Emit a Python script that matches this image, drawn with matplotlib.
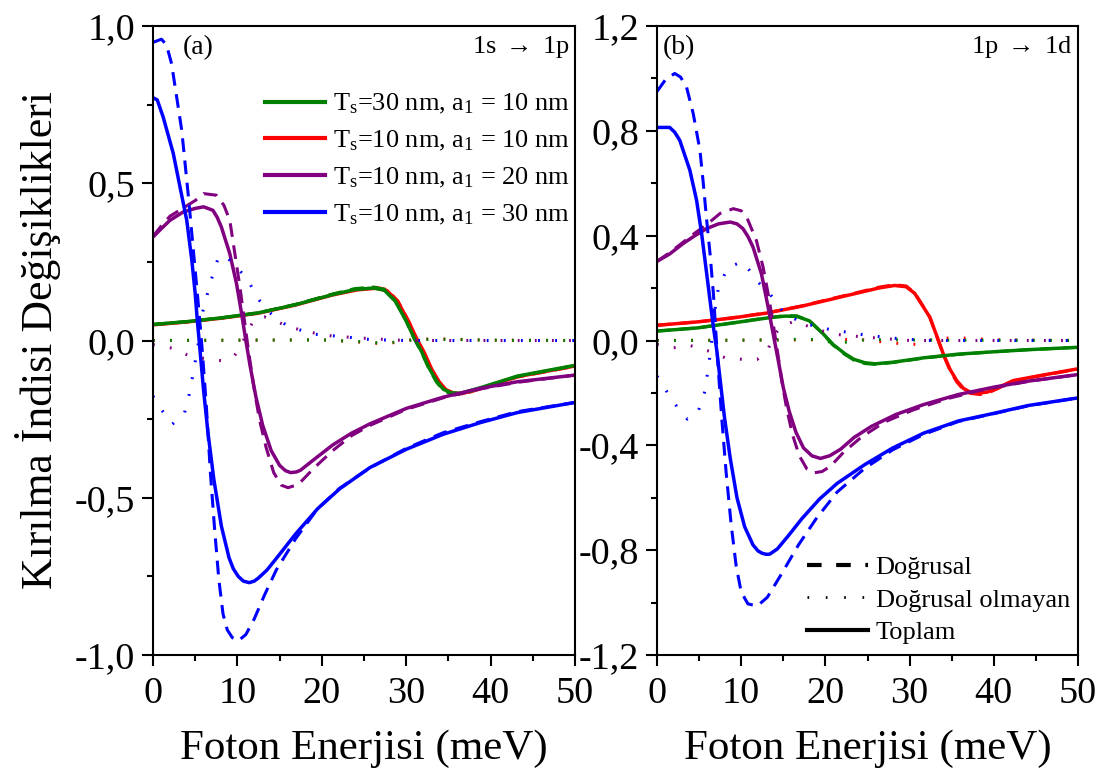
import numpy as np
import matplotlib.pyplot as plt
from matplotlib.lines import Line2D
from matplotlib.ticker import MultipleLocator, FuncFormatter

plt.rcParams['font.family'] = ['Liberation Serif', 'DejaVu Serif']
plt.rcParams['mathtext.fontset'] = 'custom'
plt.rcParams['mathtext.rm'] = 'Liberation Serif'
plt.rcParams['mathtext.it'] = 'Liberation Serif:italic'

# ---- (a) 1s -> 1p : (E [meV], dn/n) ----
a_mavi_dog = [(0, 0.948), (1.0, 0.958), (1.6, 0.94), (2.2, 0.88), (2.8, 0.775), (3.4, 0.669),
              (3.8, 0.563), (4.2, 0.456), (4.6, 0.34), (5.0, 0.223), (5.4, 0.106), (5.8, -0.02),
              (6.3, -0.2), (6.8, -0.42), (7.3, -0.6), (7.8, -0.76), (8.3, -0.87), (8.8, -0.92),
              (9.4, -0.945), (10.1, -0.955), (11.0, -0.935), (12.0, -0.885), (13.2, -0.81),
              (14.6, -0.73), (16.9, -0.63), (19.5, -0.535), (22.1, -0.47), (25.7, -0.405),
              (30, -0.343), (34.4, -0.293), (38.8, -0.258), (43.2, -0.226), (50, -0.197)]
a_mavi_top = [(0, 0.772), (0.5, 0.765), (1.2, 0.711), (2.4, 0.595), (3.2, 0.488), (4.0, 0.382),
              (4.6, 0.255), (5.0, 0.149), (5.25, 0.064), (5.6, -0.04), (6.0, -0.16), (6.5, -0.29),
              (7.2, -0.44), (8.1, -0.59), (9.0, -0.69), (9.5, -0.725), (10.1, -0.75), (10.7, -0.765),
              (11.4, -0.77), (12.0, -0.765), (12.5, -0.755), (13.5, -0.73), (14.7, -0.69),
              (16.9, -0.615), (19.5, -0.535), (22.1, -0.472), (25.7, -0.404),
              (30, -0.346), (34.4, -0.298), (38.8, -0.261), (43.2, -0.229), (50, -0.197)]
a_mavi_dgs = [(0, -0.177), (1.0, -0.22), (2.3, -0.266), (3.7, -0.234), (4.4, -0.16), (4.8, -0.097),
              (5.3, -0.023), (5.8, 0.082), (6.75, 0.18), (7.7, 0.26), (8.5, 0.272), (9.1, 0.255),
              (10.2, 0.225), (11.3, 0.19), (12.3, 0.138), (13.5, 0.096), (14.5, 0.074), (16, 0.045),
              (19.1, 0.02), (22.6, 0.012), (25.7, 0.003), (30, 0.0), (40, 0.0), (50, 0.0)]

a_mor_dog = [(0, 0.331), (1.0, 0.365), (2.0, 0.395), (3.5, 0.42), (5.0, 0.445), (6.0, 0.467),
             (7.5, 0.462), (8.4, 0.43), (9.1, 0.382), (9.7, 0.276), (10.3, 0.17), (10.8, 0.07),
             (11.3, -0.03), (11.9, -0.14), (12.6, -0.25), (13.4, -0.34), (14.3, -0.42), (15.2, -0.46),
             (16.0, -0.468), (17.2, -0.458), (19.1, -0.405), (21.3, -0.35), (23.5, -0.303),
             (25.7, -0.27), (30, -0.219), (34.4, -0.182), (38.8, -0.154), (43.2, -0.133), (50, -0.11)]
a_mor_top = [(0, 0.329), (1.0, 0.356), (2.0, 0.382), (3.6, 0.409), (5.0, 0.42), (6.0, 0.425),
             (7.1, 0.414), (7.6, 0.392), (8.1, 0.361), (9.1, 0.276), (9.9, 0.18), (10.5, 0.085), (11.0, 0.0),
             (11.5, -0.08), (12.2, -0.18), (13.0, -0.27), (14.0, -0.35), (15.0, -0.397), (15.7, -0.414),
             (16.3, -0.42), (17.0, -0.418), (17.5, -0.412), (19.0, -0.38), (21.3, -0.332), (23.5, -0.295),
             (25.7, -0.265), (30, -0.216), (34.4, -0.18), (38.8, -0.152), (43.2, -0.131), (50, -0.11)]
a_mor_dgs = [(0, -0.013), (2.4, -0.025), (4, -0.045), (5.5, -0.055), (7, -0.06), (8.3, -0.065),
             (9.6, -0.05), (10.4, -0.02), (11.2, 0.03), (12.1, 0.07), (13.2, 0.075), (14.5, 0.062),
             (16, 0.045), (18.2, 0.028), (21.3, 0.014), (25.7, 0.006), (30, 0.0), (50, 0.0)]

a_yesil_top = [(0, 0.051), (4, 0.06), (8.1, 0.072), (12.5, 0.088), (16.9, 0.114), (21.3, 0.146),
               (23.9, 0.162), (26.1, 0.167), (27.4, 0.16), (28.7, 0.125), (30, 0.062), (30.9, 0.01),
               (31.8, -0.034), (32.7, -0.087), (33.6, -0.129), (34.4, -0.155), (35.3, -0.166),
               (36.4, -0.168), (38.8, -0.15), (43.2, -0.113), (50, -0.079)]
a_yesil_dog = [(0, 0.051), (4, 0.06), (8.1, 0.072), (12.5, 0.088), (16.9, 0.115), (21.3, 0.148),
               (23.9, 0.165), (26.1, 0.17), (27.4, 0.163), (28.7, 0.127), (30, 0.062), (30.9, 0.008),
               (31.8, -0.037), (32.7, -0.09), (33.6, -0.133), (34.4, -0.158), (35.3, -0.17),
               (36.4, -0.171), (38.8, -0.152), (43.2, -0.114), (50, -0.08)]
a_yesil_dgs = [(0, 0.0), (10, 0.001), (20, 0.002), (24, -0.003), (27, -0.008), (29, -0.005),
               (31, 0.003), (34, 0.004), (40, 0.001), (50, 0.0)]
a_kirmizi_top = [(0, 0.05), (4, 0.059), (8.1, 0.071), (12.5, 0.087), (16.9, 0.113), (21.3, 0.145),
                 (24.2, 0.161), (26.4, 0.166), (27.7, 0.159), (29.0, 0.124), (30.3, 0.06), (31.2, 0.008),
                 (32.1, -0.036), (33.0, -0.09), (33.9, -0.131), (34.7, -0.156), (35.6, -0.167),
                 (36.6, -0.169), (38.8, -0.152), (43.2, -0.115), (50, -0.081)]
a_kirmizi_dog = [(0, 0.05), (4, 0.059), (8.1, 0.071), (12.5, 0.088), (16.9, 0.114), (21.3, 0.147),
                 (24.2, 0.164), (26.4, 0.169), (27.7, 0.162), (29.0, 0.126), (30.3, 0.06), (31.2, 0.006),
                 (32.1, -0.039), (33.0, -0.093), (33.9, -0.135), (34.7, -0.16), (35.6, -0.171),
                 (36.6, -0.172), (38.8, -0.154), (43.2, -0.116), (50, -0.082)]
a_kirmizi_dgs = [(0, 0.0), (10, 0.001), (20, 0.002), (24, -0.004), (27, -0.01), (29, -0.006),
                 (31, 0.004), (34, 0.005), (40, 0.001), (50, 0.0)]

# ---- (b) 1p -> 1d ----
b_mavi_dog = [(0, 0.95), (1.0, 0.995), (2.1, 1.019), (2.8, 1.005), (3.5, 0.968), (4.3, 0.866),
              (5.1, 0.726), (5.5, 0.599), (5.9, 0.459), (6.3, 0.331), (6.7, 0.178), (7.0, 0.025),
              (7.3, -0.12), (7.7, -0.3), (8.2, -0.5), (8.8, -0.7), (9.4, -0.86), (10.0, -0.96),
              (10.8, -1.005), (11.9, -1.013), (13.1, -0.98), (14.8, -0.89), (16.8, -0.78),
              (18.9, -0.68), (21.4, -0.578), (24.7, -0.487), (28, -0.417), (31.7, -0.358),
              (35.8, -0.309), (40, -0.279), (44.1, -0.249), (50, -0.219)]
b_mavi_top = [(0, 0.813), (1.5, 0.813), (2.1, 0.795), (2.7, 0.764), (3.9, 0.65), (4.7, 0.535), (5.3, 0.408),
              (5.9, 0.255), (6.4, 0.127), (6.7, 0.051), (7.1, -0.038), (7.5, -0.15), (8.0, -0.29),
              (8.7, -0.45), (9.5, -0.6), (10.4, -0.71), (11.4, -0.78), (12.0, -0.803), (12.5, -0.812),
              (13.0, -0.816), (13.4, -0.815), (14.3, -0.795), (15.6, -0.745), (17.2, -0.68),
              (19.3, -0.605), (21.4, -0.545), (24.7, -0.473), (28, -0.41), (31.7, -0.353),
              (35.8, -0.307), (40, -0.278), (44.1, -0.248), (50, -0.219)]
b_mavi_dgs = [(0, -0.136), (1.5, -0.212), (2.6, -0.263), (3.6, -0.30), (4.8, -0.28), (5.7, -0.193),
              (6.2, -0.079), (6.7, 0.05), (7.0, 0.15), (7.3, 0.2), (8.0, 0.25), (8.5, 0.28),
              (10.1, 0.30), (11.0, 0.267), (12.0, 0.223), (13.4, 0.178), (15.0, 0.108), (17.2, 0.067),
              (20.5, 0.042), (24.3, 0.023), (27.6, 0.01), (32, 0.0), (50, 0.0)]

b_mor_dog = [(0, 0.302), (1.5, 0.335), (3.1, 0.375), (4.5, 0.41), (6.0, 0.445), (7.5, 0.485),
             (9.06, 0.503), (10.0, 0.495), (10.65, 0.471), (11.8, 0.382), (12.6, 0.28), (13.2, 0.178),
             (13.8, 0.064), (14.3, -0.04), (14.8, -0.15), (15.4, -0.26), (16.1, -0.36), (16.9, -0.44),
             (17.8, -0.49), (18.6, -0.505), (19.6, -0.5), (20.6, -0.48), (22.2, -0.425),
             (24.3, -0.368), (27.1, -0.31), (30.5, -0.264), (34.6, -0.221), (38.7, -0.188),
             (44.1, -0.156), (50, -0.13)]
b_mor_top = [(0, 0.302), (1.5, 0.33), (3.1, 0.37), (4.5, 0.40), (5.9, 0.427), (7.3, 0.445),
             (8.7, 0.452), (9.5, 0.445), (10.2, 0.427), (10.8, 0.397), (11.4, 0.357), (12.4, 0.255),
             (13.2, 0.127), (13.8, 0.025), (14.4, -0.076), (15.0, -0.18), (15.7, -0.27), (16.5, -0.35),
             (17.4, -0.41), (18.4, -0.44), (19.4, -0.45), (20.5, -0.44), (21.8, -0.415), (23.4, -0.37),
             (25.5, -0.327), (28.4, -0.282), (31.7, -0.244), (35.8, -0.206), (40, -0.178),
             (44.1, -0.155), (50, -0.13)]
b_mor_dgs = [(0, -0.015), (1.9, -0.028), (4.0, -0.02), (6.1, -0.04), (8.1, -0.066), (10.2, -0.072),
             (11.9, -0.072), (13.1, -0.04), (13.9, 0.02), (14.8, 0.055), (16.4, 0.074), (18.9, 0.042),
             (21.4, 0.023), (24.7, 0.013), (30, 0.0), (50, 0.0)]

b_kirmizi_top = [(0, 0.058), (4.8, 0.071), (9.0, 0.086), (13.1, 0.105), (17.2, 0.131), (20.5, 0.156),
                 (23.4, 0.178), (26.3, 0.2), (28.2, 0.21), (29.6, 0.205), (30.6, 0.18), (31.5, 0.135),
                 (32.4, 0.089), (33.2, 0.02), (34.0, -0.051), (34.8, -0.11), (35.6, -0.153),
                 (36.4, -0.183), (37.2, -0.197), (38.3, -0.2), (39.2, -0.197), (40.5, -0.18),
                 (42.3, -0.153), (45.3, -0.135), (50, -0.108)]
b_kirmizi_dog = [(0, 0.058), (4.8, 0.071), (9.0, 0.087), (13.1, 0.106), (17.2, 0.132), (20.5, 0.158),
                 (23.4, 0.18), (26.3, 0.203), (28.2, 0.213), (29.6, 0.208), (30.6, 0.182), (31.5, 0.136),
                 (32.4, 0.089), (33.2, 0.018), (34.0, -0.054), (34.8, -0.114), (35.6, -0.158),
                 (36.4, -0.188), (37.2, -0.202), (38.3, -0.206), (39.2, -0.202), (40.5, -0.183),
                 (42.3, -0.155), (45.3, -0.136), (50, -0.109)]
b_kirmizi_dgs = [(0, 0.0), (15, 0.002), (24, 0.004), (27, -0.006), (29, -0.012), (31, -0.015),
                 (33, 0.008), (36, 0.01), (40, 0.003), (50, 0.0)]
b_yesil_top = [(0, 0.036), (4.8, 0.048), (9.0, 0.067), (13.1, 0.086), (15.2, 0.093), (16.6, 0.092),
               (18.1, 0.075), (19.75, 0.025), (20.9, -0.015), (22.3, -0.05), (23.4, -0.072),
               (24.7, -0.085), (25.9, -0.089), (28, -0.083), (31.7, -0.066), (35.8, -0.052),
               (40, -0.043), (44.1, -0.035), (50, -0.026)]
b_yesil_dog = [(0, 0.036), (4.8, 0.048), (9.0, 0.067), (13.1, 0.087), (15.2, 0.095), (16.6, 0.094),
               (18.1, 0.076), (19.75, 0.024), (20.9, -0.017), (22.3, -0.053), (23.4, -0.075),
               (24.7, -0.088), (25.9, -0.091), (28, -0.084), (31.7, -0.067), (35.8, -0.053),
               (40, -0.043), (44.1, -0.035), (50, -0.026)]
b_yesil_dgs = [(0, 0.0), (10, 0.001), (15, 0.003), (18, 0.006), (20, -0.004), (22, -0.008),
               (25, 0.004), (30, 0.002), (50, 0.0)]

etiketler = ["T$_\\mathregular{s}$=30 nm, a$_\\mathregular{1}$ = 10 nm",
             "T$_\\mathregular{s}$=10 nm, a$_\\mathregular{1}$ = 10 nm",
             "T$_\\mathregular{s}$=10 nm, a$_\\mathregular{1}$ = 20 nm",
             "T$_\\mathregular{s}$=10 nm, a$_\\mathregular{1}$ = 30 nm"]
renkler = {"yesil": "#008000", "kirmizi": "#ff0000", "mor": "#800080", "mavi": "#0000ff"}

panel_a = [("kirmizi", a_kirmizi_dgs, a_kirmizi_dog, a_kirmizi_top),
           ("yesil", a_yesil_dgs, a_yesil_dog, a_yesil_top),
           ("mor", a_mor_dgs, a_mor_dog, a_mor_top),
           ("mavi", a_mavi_dgs, a_mavi_dog, a_mavi_top)]
panel_b = [("kirmizi", b_kirmizi_dgs, b_kirmizi_dog, b_kirmizi_top),
           ("yesil", b_yesil_dgs, b_yesil_dog, b_yesil_top),
           ("mor", b_mor_dgs, b_mor_dog, b_mor_top),
           ("mavi", b_mavi_dgs, b_mavi_dog, b_mavi_top)]

LW = 2.2
DASH = (4.5, 2.8)
DOT = (0.6, 5.0)

fig = plt.figure(figsize=(11.06, 7.74), dpi=100)
ax_a = fig.add_axes([153 / 1106, 119 / 774, 422 / 1106, 629 / 774])
ax_b = fig.add_axes([657 / 1106, 119 / 774, 421 / 1106, 629 / 774])

virgul = FuncFormatter(lambda v, p: f"{v:.1f}".replace(".", ",").replace("-0,0", "0,0"))

for ax, egriler, ylim, ymaj, ymin in [(ax_a, panel_a, (-1.0, 1.0), 0.5, 0.25),
                                       (ax_b, panel_b, (-1.2, 1.2), 0.4, 0.2)]:
    for renk, dgs, dog, top in egriler:
        c = renkler[renk]
        x, y = np.array(dgs).T
        ax.plot(x, y, color=c, lw=LW, dashes=DOT)
        x, y = np.array(dog).T
        ax.plot(x, y, color=c, lw=LW, dashes=DASH)
        x, y = np.array(top).T
        ax.plot(x, y, color=c, lw=LW + 0.3, solid_joinstyle='round')
    ax.set_xlim(0, 50)
    ax.set_ylim(*ylim)
    ax.xaxis.set_major_locator(MultipleLocator(10))
    ax.xaxis.set_minor_locator(MultipleLocator(5))
    ax.yaxis.set_major_locator(MultipleLocator(ymaj))
    ax.yaxis.set_minor_locator(MultipleLocator(ymin))
    ax.yaxis.set_major_formatter(virgul)
    ax.tick_params(which='major', direction='out', length=7.6, width=1.5, labelsize=27.5)
    ax.tick_params(axis='y', which='major', pad=5)
    ax.tick_params(axis='x', which='major', pad=8)
    ax.tick_params(which='minor', direction='out', length=4.5, width=1.5)
    for s in ax.spines.values():
        s.set_linewidth(1.5)
    ax.set_xlabel("Foton Enerjisi (meV)", fontsize=31, labelpad=13)

ax_a.text(0.071, 0.966, "(a)", transform=ax_a.transAxes, fontsize=20, va='center', ha='left')
ax_a.text(0.988, 0.966, "1s $\\rightarrow$ 1p", transform=ax_a.transAxes, fontsize=19,
          va='center', ha='right')
ax_b.text(0.014, 0.966, "(b)", transform=ax_b.transAxes, fontsize=20, va='center', ha='left')
ax_b.text(0.988, 0.966, "1p $\\rightarrow$ 1d", transform=ax_b.transAxes, fontsize=19,
          va='center', ha='right')

fig.text(38 / 1106, 1 - 340 / 774, "Kırılma İndisi Değişiklikleri", rotation=90,
         fontsize=31.5, ha='center', va='center')

renk_sira = ["yesil", "kirmizi", "mor", "mavi"]
h_a = [Line2D([], [], color=renkler[r], lw=3) for r in renk_sira]
ax_a.legend(h_a, etiketler, loc='upper right', bbox_to_anchor=(1.026, 0.92), frameon=False,
            fontsize=19, handlelength=2.3, handletextpad=0.3, labelspacing=0.48,
            borderaxespad=0.2)

h_b = [Line2D([], [], color='k', lw=3, dashes=(3.5, 3.5)),
       Line2D([], [], color='k', lw=2, dashes=(0.6, 6)),
       Line2D([], [], color='k', lw=3)]
ax_b.legend(h_b, ["Doğrusal", "Doğrusal olmayan", "Toplam"], loc='lower right',
            bbox_to_anchor=(1.031, -0.016), frameon=False, fontsize=19, handlelength=2.3,
            handletextpad=0.3, labelspacing=0.34, borderaxespad=0.4)

fig.savefig("out.png", dpi=100, facecolor="white")
